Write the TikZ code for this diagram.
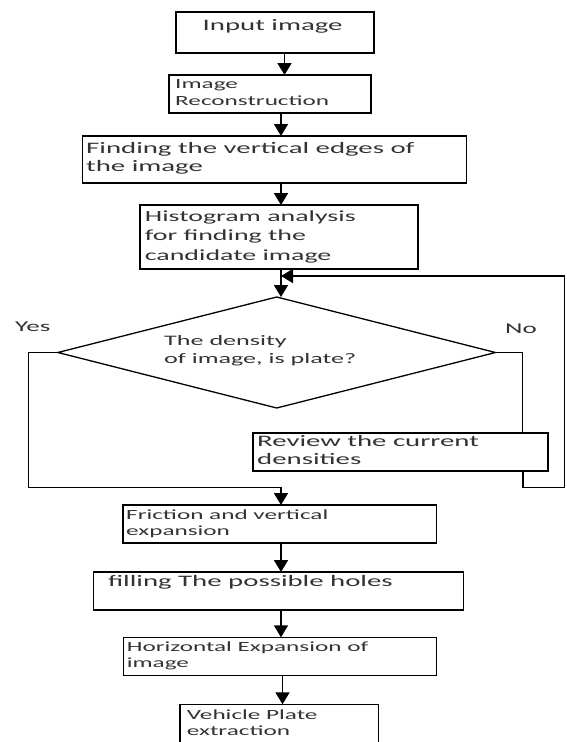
\documentclass[tikz,border=0pt]{standalone}
\usepackage{fontspec}
\setmainfont{Carlito}[FakeStretch=1.8]
\usetikzlibrary{arrows.meta,shapes.geometric}
\definecolor{textc}{gray}{0.2}
\newcommand{\mlines}[3]{{\fontsize{#1}{#2}\selectfont\begin{tabular}[t]{@{}l@{}}#3\end{tabular}}}
\begin{document}
\begin{tikzpicture}[x=1pt,y=-1pt,
  box/.style={draw=black, line width=1.3pt, anchor=north west, inner sep=0pt, outer sep=0pt},
  dbox/.style={draw=black, line width=1.3pt, diamond, inner sep=0pt, outer sep=0pt},
  txt/.style={anchor=base west, inner sep=0pt, text=textc},
  arr/.style={line width=1.8pt, -{Triangle[width=14pt,length=12pt]}},
  ln/.style={line width=1.3pt}]
\useasboundingbox (0,0) rectangle (567,742);
\clip (0,0) rectangle (567,742);

% boxes
\node[box, minimum width=198pt, minimum height=41pt] (b1) at (176,12) {};
\node[box, minimum width=202pt, minimum height=38pt] (b2) at (169,75) {};
\node[box, minimum width=384pt, minimum height=47pt] (b3) at (82.5,136) {};
\node[box, minimum width=278pt, minimum height=64pt] (b4) at (140,205) {};
\node[dbox, minimum width=437.6pt, minimum height=111pt] (dia) at (276.7,352.5) {};
\node[box, minimum width=295pt, minimum height=38pt] (rev) at (253,433) {};
\node[box, minimum width=313.5pt, minimum height=38pt] (fric) at (123,505) {};
\node[box, minimum width=370pt, minimum height=38pt] (fill) at (93.3,572) {};
\node[box, minimum width=313pt, minimum height=38.4pt] (horz) at (123.7,637.3) {};
\node[box, minimum width=198.7pt, minimum height=50pt] (veh) at (180,704.3) {};

% texts
\node[txt] (t1) at (202.5,30) {\mlines{16}{19}{Input image}};
\node[txt] (t2) at (175,88.3) {\mlines{14}{16.7}{Image\\Reconstruction}};
\node[txt] (t3) at (86,153) {\mlines{16}{18}{Finding the vertical edges of\\the image}};
\node[txt] (t4) at (144.7,221.7) {\mlines{15.5}{19.2}{Histogram analysis\\for finding the\\candidate image}};
\node[txt] (tyes) at (15,331) {\mlines{15}{18}{Yes}};
\node[txt] (tno) at (505,333) {\mlines{15}{18}{No}};
\node[txt] (td) at (164,345) {\mlines{14.5}{18}{The density\\of image, is plate?}};
\node[txt] (tr) at (257,446) {\mlines{16}{18.5}{Review the current\\densities}};
\node[txt] (tf) at (126,519) {\mlines{14}{16}{Friction and vertical\\expansion}};
\node[txt] (tfi) at (107.8,586.7) {\mlines{16}{19}{filling The possible holes}};
\node[txt] (th) at (126.6,651.7) {\mlines{14}{15.5}{Horizontal Expansion of\\image}};
\node[txt] (tv) at (186.7,719) {\mlines{14}{16.5}{Vehicle Plate\\extraction}};

% helper coordinates
\coordinate (c1) at (284.5,0);
\coordinate (cx) at (281,0);
\coordinate (cy) at (282.5,0);
\coordinate (rx) at (522.6,0);
\coordinate (lx) at (28.5,0);
\coordinate (jy) at (0,487.5);
\coordinate (rr) at (564.5,487.5);
\coordinate (fb) at (281,276);

% connectors
\draw[arr] (b1.south -| c1) -- (b2.north -| c1);
\draw[arr] (b2.south -| cx) -- (b3.north -| cx);
\draw[arr] (b3.south -| cx) -- (b4.north -| cx);
\draw[arr] (b4.south -| cx) -- (dia.north -| cx);
\draw[ln] (dia.east) -| (rev.north -| rx);
\draw[arr] (rev.south -| rx) |- (rr) |- (fb);
\draw[arr] (dia.west) -| (lx |- jy) -| (fric.north -| cx);
\draw[arr] (fric.south -| cx) -- (fill.north -| cx);
\draw[arr] (fill.south -| cx) -- (horz.north -| cx);
\draw[arr] (horz.south -| cy) -- (veh.north -| cy);
\end{tikzpicture}
\end{document}
